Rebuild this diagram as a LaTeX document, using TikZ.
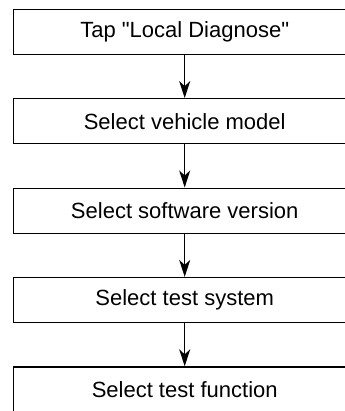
\documentclass[tikz,border=0pt]{standalone}
\usepackage{fontspec}
\setmainfont{Liberation Sans}
\usetikzlibrary{arrows.meta,positioning}

\begin{document}
\begin{tikzpicture}[x=0.5pt,y=-0.5pt,node distance=21.6pt,
    stepbox/.style={draw,line width=0.6pt,minimum width=171pt,minimum height=22.5pt,inner sep=0pt,font=\fontsize{11}{13}\selectfont},
    flow/.style={line width=0.6pt,-{Stealth[length=8.5pt,width=5.5pt,inset=2.5pt]}}]
\useasboundingbox (0,0) rectangle (344,411);

\node[stepbox] (tap) at (184.7,31.8) {Tap \textquotedbl Local Diagnose\textquotedbl};
\node[stepbox,below=of tap] (model) {Select vehicle model};
\node[stepbox,below=of model] (version) {Select software version};
\node[stepbox,below=of version] (system) {Select test system};
\node[stepbox,below=of system] (function) {Select test function};

% arrows
\draw[flow] (tap) -- (model);
\draw[flow] (model) -- (version);
\draw[flow] (version) -- (system);
\draw[flow] (system) -- (function);
\end{tikzpicture}
\end{document}
